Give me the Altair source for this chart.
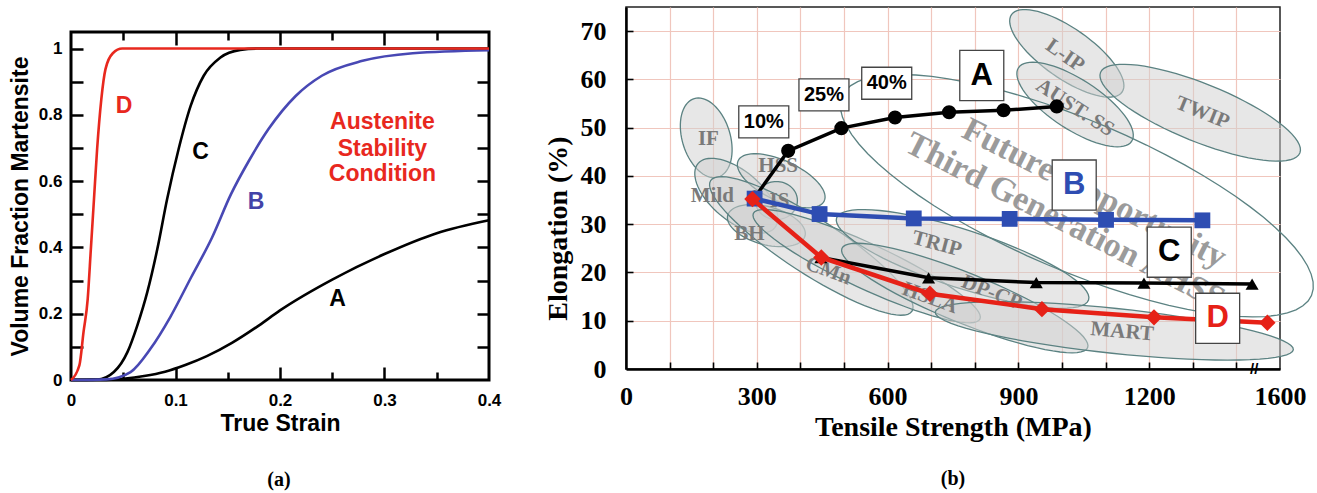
import altair as alt
import numpy as np
import pandas as pd

SANS = "Liberation Sans"
SERIF = "Liberation Serif"
RED_A = "#e8281e"
BLUE_A = "#4848b4"
RED_B = "#e62117"
BLUE_B = "#2e4db2"

# ---------------- panel (a): volume fraction martensite vs true strain ----------------
a_strain_A = [0.0, 0.03, 0.05, 0.07, 0.09, 0.11, 0.13, 0.154, 0.18, 0.20, 0.25, 0.30, 0.35, 0.40]
a_frac_A = [0.0, 0.0, 0.004, 0.012, 0.025, 0.046, 0.072, 0.112, 0.165, 0.21, 0.303, 0.38, 0.443, 0.482]
a_strain_B = [0.0, 0.034, 0.057, 0.076, 0.095, 0.115, 0.135, 0.153, 0.170, 0.189, 0.215, 0.24, 0.279, 0.327, 0.40]
a_frac_B = [0.0, 0.002, 0.024, 0.094, 0.19, 0.31, 0.43, 0.56, 0.66, 0.757, 0.857, 0.918, 0.963, 0.986, 0.995]
a_strain_C = [0.0, 0.025, 0.041, 0.054, 0.0635, 0.073, 0.0826, 0.092, 0.103, 0.1145, 0.127, 0.143, 0.162, 0.178, 0.40]
a_frac_C = [0.0, 0.001, 0.024, 0.084, 0.165, 0.265, 0.395, 0.546, 0.697, 0.827, 0.918, 0.973, 0.996, 1.0, 1.0]
a_strain_D = [0.0, 0.008, 0.012, 0.016, 0.019, 0.022, 0.025, 0.029, 0.033, 0.040, 0.049, 0.40]
a_frac_D = [0.0, 0.044, 0.145, 0.245, 0.395, 0.546, 0.697, 0.847, 0.938, 0.986, 1.0, 1.0]

a_lab_text = ["D", "C", "B", "A", "Austenite", "Stability", "Condition"]
a_lab_x = [0.0507, 0.124, 0.177, 0.255, 0.298, 0.298, 0.298]
a_lab_y = [0.827, 0.687, 0.536, 0.245, 0.777, 0.697, 0.622]
a_lab_color = [RED_A, "black", "#4343a8", "black", RED_A, RED_A, RED_A]

# ---------------- panel (b): elongation vs tensile strength ----------------
b_A_x = [295, 372, 494, 617, 741, 866, 988]
b_A_y = [35.5, 45.2, 49.9, 52.1, 53.2, 53.6, 54.4]
b_B_x = [295, 444, 660, 880, 1101, 1322]
b_B_y = [35.3, 32.1, 31.2, 31.1, 30.9, 30.8]
b_C_x = [447, 694, 941, 1188, 1436]
b_C_y = [23.1, 18.9, 17.9, 17.8, 17.6]
b_D_x = [290, 448, 697, 954, 1211, 1471]
b_D_y = [35.2, 23.1, 15.6, 12.4, 10.7, 9.6]

# steel-class regions (centre in MPa / %)
ell_name = ["IF", "Mild", "HSS", "IS", "BH", "CMn", "HSLA", "TRIP", "DP-CP", "MART", "L-IP", "AUST. SS", "TWIP"]
ell_x = [184, 253, 356, 345, 322, 425, 552, 772, 777, 1120, 1011, 1030, 1317]
ell_y = [47.9, 35.9, 39.0, 34.9, 29.7, 25.5, 21.3, 22.8, 14.7, 7.9, 65.4, 54.8, 53.1]
ell_len = [82, 100, 95, 42, 80, 240, 250, 265, 265, 360, 135, 135, 215]
ell_wid = [48, 50, 40, 38, 38, 55, 45, 58, 50, 45, 50, 50, 58]
ell_ang = [73, 40, 25, 0, 15, 33, 25, 18, 22, 6, 35, 33, 22]

big_x = [1034]
big_y = [35.9]
big_len = [510]
big_wid = [150]
big_ang = [23]

reg_text = ["IF", "HSS", "Mild", "IS", "BH", "CMn", "HSLA", "TRIP", "DP-CP", "MART", "L-IP", "AUST. SS", "TWIP"]
reg_x = [189, 349, 198, 352, 283, 464, 697, 713, 839, 1138, 1007, 1030, 1322]
reg_y = [47.6, 42.1, 35.9, 34.9, 28.0, 20.3, 14.7, 25.9, 15.8, 7.7, 64.9, 54.1, 53.1]
reg_ang = [0, 0, 0, 0, 0, 20, 20, 15, 22, 5, 35, 33, 22]

gen_text = ["Future Opportunity", "Third Generation AHSS"]
gen_x = [1074, 1007]
gen_y = [36.3, 30.5]

box_text = ["10%", "25%", "40%", "A", "B", "C", "D"]
box_x = [316, 454, 598, 816, 1028, 1246, 1357]
box_y = [51.2, 56.8, 59.2, 60.8, 38.1, 24.2, 10.5]
box_color = ["black", "black", "black", "black", BLUE_B, "black", RED_B]

b_x_labels = [0, 300, 600, 900, 1200, 1500]
b_break_x = [1441]


def ellipse_path(ratio, n=72):
    t = np.linspace(0, 2 * np.pi, n, endpoint=False)
    return "M" + "L".join(f"{np.cos(a):.4f},{ratio * np.sin(a):.4f}" for a in t) + "Z"


def box_path(ratio):
    return f"M-1,-{ratio:.3f}L1,-{ratio:.3f}L1,{ratio:.3f}L-1,{ratio:.3f}Z"


def tick_axis(orient, values, size, width=2.0):
    return alt.Axis(orient=orient, values=values, ticks=True, tickSize=size, tickWidth=width,
                    tickColor="black", offset=-size, labels=False, domain=False, grid=False,
                    title=None)


# ======================= panel (a) =======================
W_A, H_A = 418, 348
xs_a = alt.Scale(domain=[0, 0.4], nice=False, zero=False)
ys_a = alt.Scale(domain=[0, 1.05], nice=False, zero=False)

frames = []
for s, xs, ys in [("A", a_strain_A, a_frac_A), ("C", a_strain_C, a_frac_C),
                  ("B", a_strain_B, a_frac_B), ("D", a_strain_D, a_frac_D)]:
    frames.append(pd.DataFrame({"series": s, "strain": xs, "frac": ys}))
df_a = pd.concat(frames, ignore_index=True)


def carrier_a(xaxis, yaxis):
    return alt.Chart(df_a).mark_point(opacity=0).encode(
        x=alt.X("strain:Q", scale=xs_a, axis=xaxis),
        y=alt.Y("frac:Q", scale=ys_a, axis=yaxis))


main_ax_a = carrier_a(
    alt.Axis(orient="bottom", values=[0, 0.1, 0.2, 0.3, 0.4], format=".1~f", ticks=False,
             domain=False, grid=False, labelFont=SANS, labelFontSize=17, labelFontWeight="bold",
             labelColor="black", labelPadding=12, labelFlush=False, labelOverlap=False,
             title="True Strain", titleFont=SANS, titleFontSize=23, titleFontWeight="bold",
             titleColor="black", titlePadding=4),
    alt.Axis(orient="left", values=[0, 0.2, 0.4, 0.6, 0.8, 1.0], format=".1~f", ticks=False,
             domain=False, grid=False, labelFont=SANS, labelFontSize=17, labelFontWeight="bold",
             labelColor="black", labelPadding=9, labelFlush=False, labelOverlap=False,
             title="Volume Fraction Martensite", titleFont=SANS, titleFontSize=23,
             titleFontWeight="bold", titleColor="black", titlePadding=6))

ymaj = [round(0.1 * k, 1) for k in range(1, 11)]
xmaj = [0.1, 0.2, 0.3]
xmin = [0.05, 0.15, 0.25, 0.35]
t1 = carrier_a(tick_axis("bottom", xmaj, 13, 2.5), tick_axis("left", ymaj, 12, 2.5))
t2 = carrier_a(tick_axis("top", xmaj, 13, 2.5), tick_axis("right", ymaj, 12, 2.5))
t3 = carrier_a(tick_axis("bottom", xmin, 8, 2.5), None)
t4 = carrier_a(tick_axis("top", xmin, 8, 2.5), None)

curves = []
for s, col in [("A", "black"), ("C", "black"), ("B", BLUE_A), ("D", RED_A)]:
    curves.append(
        alt.Chart(df_a[df_a.series == s]).mark_line(interpolate="monotone", strokeWidth=2.6, color=col).encode(
            x=alt.X("strain:Q", scale=xs_a, axis=None),
            y=alt.Y("frac:Q", scale=ys_a, axis=None),
            order="strain:Q"))

df_lab_a = pd.DataFrame({"t": a_lab_text, "x": a_lab_x, "y": a_lab_y, "c": a_lab_color})
labels_a = alt.Chart(df_lab_a).mark_text(font=SANS, fontWeight="bold", fontSize=23).encode(
    x=alt.X("x:Q", scale=xs_a, axis=None), y=alt.Y("y:Q", scale=ys_a, axis=None),
    text="t:N", color=alt.Color("c:N", scale=None))

cap_a = alt.Chart(pd.DataFrame({"t": ["(a)"]})).mark_text(
    font=SERIF, fontWeight="bold", fontSize=20, color="black").encode(
    text="t:N", x=alt.value(208), y=alt.value(448))

chart_a = alt.layer(main_ax_a, t1, t2, t3, t4, *curves, labels_a, cap_a).resolve_axis(
    x="independent", y="independent").properties(
    width=W_A, height=H_A, view=alt.ViewBackground(stroke="black", strokeWidth=3))

spacer = alt.Chart(pd.DataFrame({"t": [""]})).mark_text().encode(text="t:N").properties(
    width=W_A, height=21, view=alt.ViewBackground(stroke="transparent"))

# ======================= panel (b) =======================
W_B, H_B = 654, 362
xs_b = alt.Scale(domain=[0, 1500], nice=False, zero=False)
ys_b = alt.Scale(domain=[0, 75], nice=False, zero=False)
GRID = "#f0c6bd"

frames = []
for s, xs, ys in [("A", b_A_x, b_A_y), ("B", b_B_x, b_B_y), ("C", b_C_x, b_C_y), ("D", b_D_x, b_D_y)]:
    frames.append(pd.DataFrame({"series": s, "x": xs, "y": ys}))
df_b = pd.concat(frames, ignore_index=True)


def carrier_b(xaxis, yaxis):
    return alt.Chart(df_b).mark_point(opacity=0).encode(
        x=alt.X("x:Q", scale=xs_b, axis=xaxis),
        y=alt.Y("y:Q", scale=ys_b, axis=yaxis))


grid_b = carrier_b(
    alt.Axis(orient="bottom", values=list(range(100, 1500, 100)), grid=True, gridColor=GRID,
             gridWidth=1.2, ticks=False, labels=False, domain=False, title=None),
    alt.Axis(orient="left", values=list(range(10, 80, 10)), grid=True, gridColor=GRID,
             gridWidth=1.2, ticks=False, labels=False, domain=False, title=None))

main_ax_b = carrier_b(
    alt.Axis(orient="bottom", values=b_x_labels,
             labelExpr="datum.value == 1500 ? '1600' : format(datum.value, 'd')",
             ticks=False, grid=False, domainColor="black", domainWidth=2.5,
             labelFont=SERIF, labelFontSize=26, labelFontWeight="bold", labelColor="black",
             labelPadding=14, labelFlush=False, labelOverlap=False,
             title="Tensile Strength (MPa)", titleFont=SERIF, titleFontSize=28,
             titleFontWeight="bold", titleColor="black", titlePadding=4),
    alt.Axis(orient="left", values=list(range(0, 80, 10)), format="d", ticks=False, grid=False,
             domainColor="black", domainWidth=2.5, labelFont=SERIF, labelFontSize=26,
             labelFontWeight="bold", labelColor="black", labelPadding=20, labelFlush=False,
             labelOverlap=False, title="Elongation (%)", titleFont=SERIF, titleFontSize=28,
             titleFontWeight="bold", titleColor="black", titlePadding=8, titleY=221))

tk_b = carrier_b(tick_axis("bottom", list(range(100, 1500, 100)), 7, 1.6),
                 tick_axis("left", list(range(10, 80, 10)), 7, 1.6))

df_ell = pd.DataFrame({
    "x": ell_x, "y": ell_y, "size": [l * l for l in ell_len],
    "path": [ellipse_path(w / l) for w, l in zip(ell_wid, ell_len)], "ang": ell_ang})
ells = alt.Chart(df_ell).mark_point(
    fill="#d0d0d0", fillOpacity=0.5, stroke="#5b8282", strokeWidth=1.3, opacity=1).encode(
    x=alt.X("x:Q", scale=xs_b, axis=None), y=alt.Y("y:Q", scale=ys_b, axis=None),
    shape=alt.Shape("path:N", scale=None), size=alt.Size("size:Q", scale=None),
    angle=alt.Angle("ang:Q", scale=None))

df_big = pd.DataFrame({
    "x": big_x, "y": big_y, "size": [l * l for l in big_len],
    "path": [ellipse_path(w / l) for w, l in zip(big_wid, big_len)], "ang": big_ang})
big = alt.Chart(df_big).mark_point(
    fill="white", fillOpacity=0, stroke="#5b8282", strokeWidth=1.3, opacity=1).encode(
    x=alt.X("x:Q", scale=xs_b, axis=None), y=alt.Y("y:Q", scale=ys_b, axis=None),
    shape=alt.Shape("path:N", scale=None), size=alt.Size("size:Q", scale=None),
    angle=alt.Angle("ang:Q", scale=None))

df_reg = pd.DataFrame({"t": reg_text, "x": reg_x, "y": reg_y, "ang": reg_ang})
reg_lab = alt.Chart(df_reg).mark_text(font=SERIF, fontWeight="bold", fontSize=21, color="#7a7a7a").encode(
    x=alt.X("x:Q", scale=xs_b, axis=None), y=alt.Y("y:Q", scale=ys_b, axis=None),
    text="t:N", angle=alt.Angle("ang:Q", scale=None))

df_gen = pd.DataFrame({"t": gen_text, "x": gen_x, "y": gen_y})
gen_lab = alt.Chart(df_gen).mark_text(font=SERIF, fontWeight="bold", fontSize=34, color="#8a8a8a",
                                      opacity=0.85, angle=27).encode(
    x=alt.X("x:Q", scale=xs_b, axis=None), y=alt.Y("y:Q", scale=ys_b, axis=None), text="t:N")

series_layers = []
for s, col, shp, sz, lw in [("A", "black", "circle", 200, 3.5), ("B", BLUE_B, "square", 250, 4.5),
                            ("C", "black", "triangle-up", 170, 3.5), ("D", RED_B, "diamond", 270, 4.5)]:
    d = df_b[df_b.series == s]
    series_layers.append(alt.Chart(d).mark_line(color=col, strokeWidth=lw).encode(
        x=alt.X("x:Q", scale=xs_b, axis=None), y=alt.Y("y:Q", scale=ys_b, axis=None), order="x:Q"))
    series_layers.append(alt.Chart(d).mark_point(filled=True, color=col, shape=shp, size=sz, opacity=1).encode(
        x=alt.X("x:Q", scale=xs_b, axis=None), y=alt.Y("y:Q", scale=ys_b, axis=None)))

df_box = pd.DataFrame({
    "t": box_text, "x": box_x, "y": box_y, "c": box_color,
    "path": [box_path(0.64)] * 3 + [box_path(1.14)] * 4,
    "size": [50 * 50] * 3 + [44 * 44] * 4})
boxes = alt.Chart(df_box).mark_point(fill="white", fillOpacity=1, stroke="#444444", strokeWidth=1.3, opacity=1).encode(
    x=alt.X("x:Q", scale=xs_b, axis=None), y=alt.Y("y:Q", scale=ys_b, axis=None),
    shape=alt.Shape("path:N", scale=None), size=alt.Size("size:Q", scale=None))
df_box["fs"] = [20] * 3 + [31] * 4
box_lab = alt.Chart(df_box).mark_text(font=SANS, fontWeight="bold").encode(
    x=alt.X("x:Q", scale=xs_b, axis=None), y=alt.Y("y:Q", scale=ys_b, axis=None),
    text="t:N", color=alt.Color("c:N", scale=None), size=alt.Size("fs:Q", scale=None))

brk = alt.Chart(pd.DataFrame({"x": b_break_x, "y": [0]})).mark_text(
    text="//", font=SANS, fontSize=15, fontWeight="bold", color="black").encode(
    x=alt.X("x:Q", scale=xs_b, axis=None), y=alt.Y("y:Q", scale=ys_b, axis=None))

cap_b = alt.Chart(pd.DataFrame({"t": ["(b)"]})).mark_text(
    font=SERIF, fontWeight="bold", fontSize=20, color="black").encode(
    text="t:N", x=alt.value(327), y=alt.value(472))

chart_b = alt.layer(grid_b, main_ax_b, tk_b, ells, big, reg_lab, gen_lab, *series_layers,
                    boxes, box_lab, brk, cap_b).resolve_axis(
    x="independent", y="independent").properties(
    width=W_B, height=H_B, view=alt.ViewBackground(stroke="#222222", strokeWidth=1.5))

left = alt.vconcat(spacer, chart_a, spacing=0)
chart = alt.hconcat(left, chart_b, spacing=40).properties(
    padding={"left": 7, "top": 6, "right": 0, "bottom": 0}, background="white")

chart.save("out.html", embed_options={"renderer": "svg", "actions": False})
